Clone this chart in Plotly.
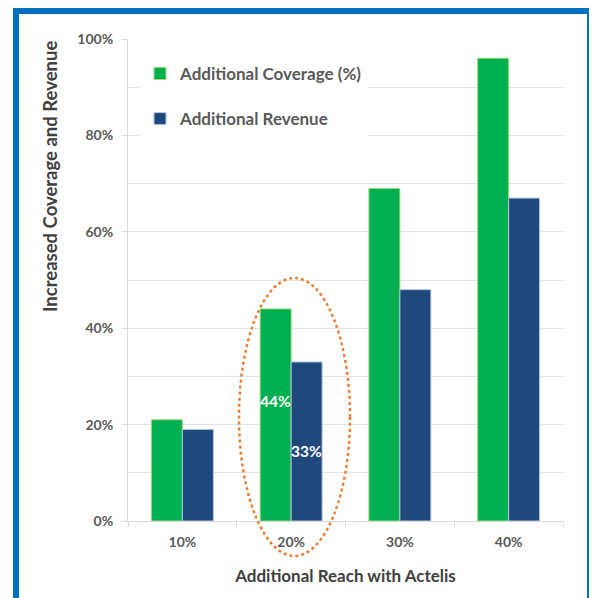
import plotly.graph_objects as go

categories = ["10%", "20%", "30%", "40%"]
coverage = [0.21, 0.44, 0.69, 0.96]
revenue = [0.19, 0.33, 0.48, 0.67]
series_names = ["Additional Coverage (%)", "Additional Revenue"]
y_ticks = [0, 0.2, 0.4, 0.6, 0.8, 1.0]
y_ticktext = ["0%", "20%", "40%", "60%", "80%", "100%"]

FONT = "Lato"
GREEN = "#00B050"
NAVY = "#1F497D"
TXT = "#595959"

fig = go.Figure()
fig.add_trace(go.Bar(x=categories, y=coverage, name=series_names[0],
                     marker=dict(color=GREEN, line=dict(color="#9BDB7A", width=1)),
                     legendgroup="a"))
fig.add_trace(go.Bar(x=categories, y=revenue, name=series_names[1],
                     marker=dict(color=NAVY, line=dict(color="#B4C7E0", width=1)),
                     legendgroup="b"))

# page body has an 8px margin; the figure is sized to fill the rest of the window
OFF = 8
W, H = 597 - OFF, 598 - OFF
L, R, T, B = 128 - OFF, 34, 39 - OFF, 77
pw, ph = W - L - R, H - T - B

def px(x):
    return (x - OFF - L) / pw

def py(y):
    return (H - B - (y - OFF)) / ph

shapes = [
    # frame
    dict(type="rect", xref="paper", yref="paper",
         x0=px(16), x1=px(590), y0=py(615), y1=py(11),
         line=dict(color="#0070C0", width=6), fillcolor="rgba(0,0,0,0)", layer="below"),
    # highlight ellipse
    dict(type="circle", xref="paper", yref="paper",
         x0=px(239), x1=px(350), y0=py(556), y1=py(278),
         line=dict(color="#ED7D31", width=2.5, dash="dot"), layer="above"),
]

annotations = [
    dict(x=categories[1], y=0.25, xref="x", yref="y", text="44%", showarrow=False,
         xshift=-15.5, font=dict(family=FONT, size=15.5, color="white", weight=700)),
    dict(x=categories[1], y=0.145, xref="x", yref="y", text="33%", showarrow=False,
         xshift=15.5, font=dict(family=FONT, size=15.5, color="white", weight=700)),
    dict(x=px(50), y=py(177), xref="paper", yref="paper", text="Increased Coverage and Revenue",
         showarrow=False, textangle=-90, xanchor="center", yanchor="middle",
         font=dict(family=FONT, size=18.5, color="#404040", weight=700)),
]

fig.update_layout(
    width=W, height=H,
    margin=dict(l=L, r=R, t=T, b=B),
    paper_bgcolor="white", plot_bgcolor="white",
    barmode="group", bargap=0.43, bargroupgap=0,
    font=dict(family=FONT, color=TXT, size=14),
    showlegend=True,
    legend=dict(x=px(140), y=py(56), xanchor="left", yanchor="top",
                bgcolor="white", borderwidth=0, tracegroupgap=20,
                itemwidth=30, traceorder="grouped",
                font=dict(family=FONT, size=17, color=TXT, weight=700)),
    shapes=shapes,
    annotations=annotations,
    xaxis=dict(
        showline=True, linecolor="#D9D9D9", linewidth=1,
        ticks="outside", tickson="boundaries", tickcolor="#D9D9D9", ticklen=5,
        ticklabelstandoff=8,
        tickfont=dict(family=FONT, size=14, color=TXT, weight=700),
        title=dict(text="Additional Reach with Actelis", standoff=21,
                   font=dict(family=FONT, size=17, color="#404040", weight=700)),
        showgrid=False,
    ),
    yaxis=dict(
        range=[0, 1], tickvals=y_ticks, ticktext=y_ticktext,
        showline=True, linecolor="#D9D9D9", linewidth=1,
        ticks="outside", tickcolor="#D9D9D9", ticklen=5,
        ticklabelstandoff=6,
        showgrid=True, gridcolor="#E3E3E3", gridwidth=1,
        minor=dict(dtick=0.1, showgrid=True, gridcolor="#E3E3E3", ticks=""),
        tickfont=dict(family=FONT, size=14, color=TXT, weight=700),
        zeroline=False,
    ),
)

fig.write_html("out.html")
